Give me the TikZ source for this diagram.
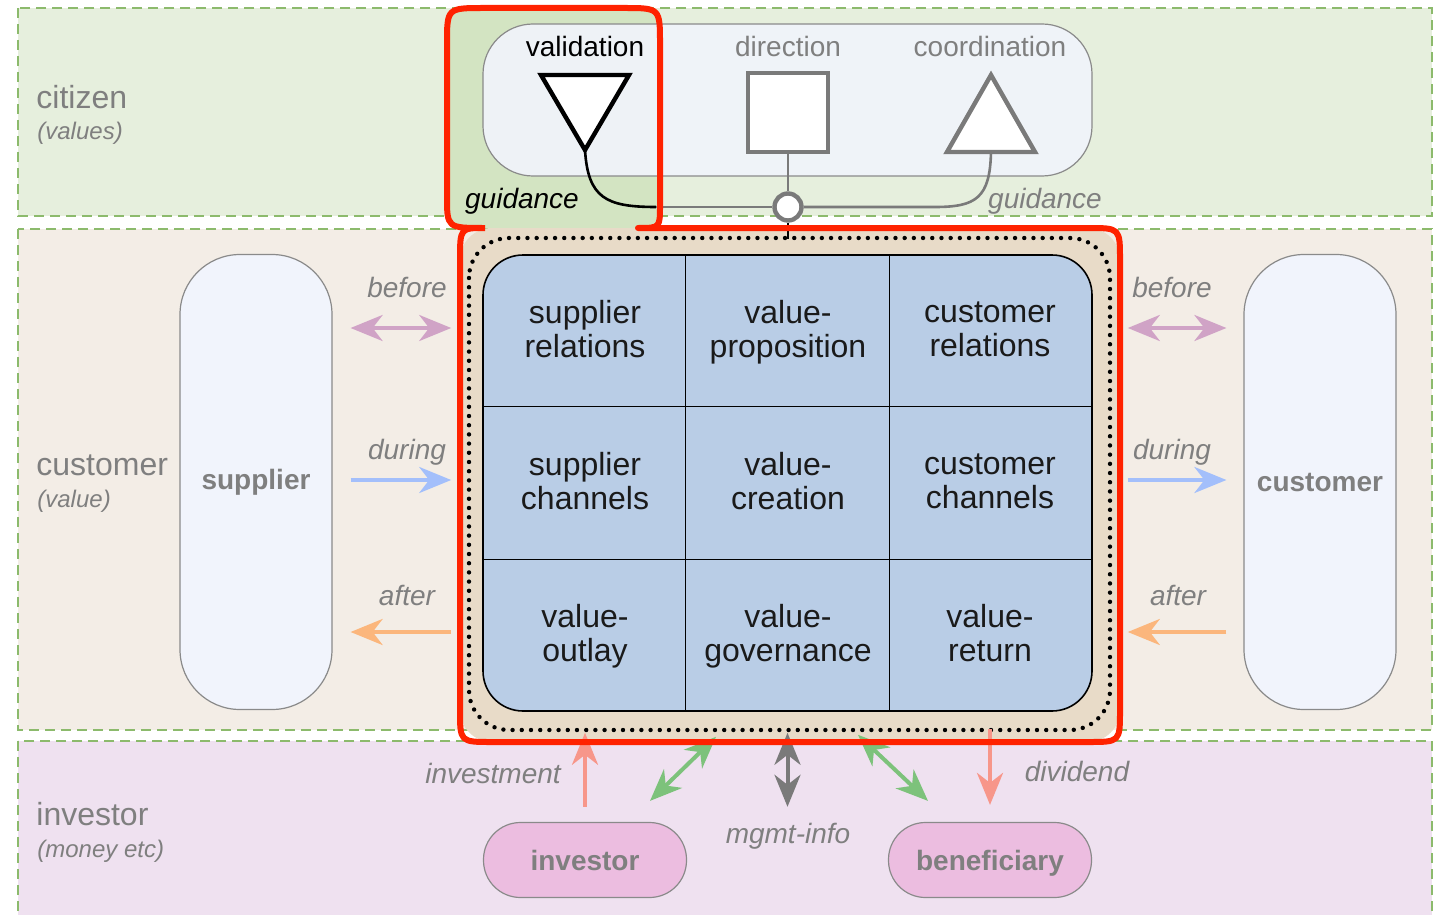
\documentclass[tikz,border=0pt]{standalone}
\usepackage{fontspec}
\setmainfont{Liberation Sans}
\usetikzlibrary{arrows.meta, calc}

\definecolor{citfill}{HTML}{E6EFDD}
\definecolor{cusfill}{HTML}{F3EDE6}
\definecolor{invfill}{HTML}{EFE1F0}
\definecolor{bandgreen}{HTML}{8CBA6C}
\definecolor{hlgreen}{HTML}{D3E4C2}
\definecolor{paleblue}{HTML}{F1F4FC}
\definecolor{coreback}{HTML}{E8DBC8}
\definecolor{gridblue}{HTML}{B9CDE6}
\definecolor{pillpink}{HTML}{ECBDE0}
\definecolor{labgray}{HTML}{7F7F7F}
\definecolor{boxgray}{HTML}{8A8A8A}
\definecolor{symgray}{HTML}{7A7A7A}
\definecolor{hilite}{HTML}{FF2200}
\definecolor{beforecol}{HTML}{D0A3C6}
\definecolor{duringcol}{HTML}{A3BFFB}
\definecolor{aftercol}{HTML}{FBB67C}
\definecolor{moneycol}{HTML}{F7968A}
\definecolor{infogreen}{HTML}{7DC27B}
\definecolor{cellink}{HTML}{1A1A1A}

\begin{document}
\begin{tikzpicture}[x=0.5pt, y=-0.5pt,
    band/.style={draw=bandgreen, line width=0.6pt, dash pattern=on 5pt off 3pt},
    rowname/.style={anchor=base west, inner sep=0pt, text=labgray, font=\fontsize{16}{19}\selectfont},
    rowsub/.style={anchor=base west, inner sep=0pt, text=labgray, font=\fontsize{12}{14}\selectfont\itshape},
    flowtxt/.style={anchor=base, text=labgray, font=\fontsize{14}{17}\selectfont\itshape},
    symtxt/.style={anchor=base, text=labgray, font=\fontsize{14}{17}\selectfont},
    cell/.style={align=center, text=cellink, font=\fontsize{16}{17}\selectfont,
        execute at begin node=\strut, execute at end node=\strut},
    party/.style={draw=boxgray, line width=0.6pt, fill=paleblue, rounded corners=30pt,
        minimum width=76pt, minimum height=227.5pt, text=labgray, font=\fontsize{14}{17}\selectfont\bfseries},
    holder/.style={draw=boxgray, line width=0.6pt, fill=pillpink, rounded corners=18.5pt,
        minimum width=101.5pt, minimum height=37.5pt, text=labgray, font=\fontsize{14}{17}\selectfont\bfseries,
        text height=11pt, text depth=1pt},
    oneway/.style={line width=2pt, -{Stealth[length=16pt, width=13pt, inset=5pt]}},
    twoway/.style={line width=2pt, {Stealth[length=16pt, width=13pt, inset=5pt]}-{Stealth[length=16pt, width=13pt, inset=5pt]}},
    link/.style={line width=1.3pt}
]
\useasboundingbox (0,0) rectangle (1440,915);

% bands
\path[band, fill=citfill] (18,8) rectangle (1432,216);
\path[band, fill=cusfill] (18,229) rectangle (1432,730);
\path[band, fill=invfill] (18,741) rectangle (1432,935);

\node[rowname] (citizen) at (36,109) {citizen};
\node[rowsub] (values) at (37,140) {(values)};
\node[rowname] (customer) at (36,475) {customer};
\node[rowsub] (value) at (37,507) {(value)};
\node[rowname] (investor) at (36,825) {investor};
\node[rowsub] (money) at (37,857) {(money etc)};

% highlighted areas
\fill[hlgreen] (447,44) .. controls (447,8) .. (484,8) -- (624,8) .. controls (660,8) .. (660,44)
    -- (660,205) .. controls (660,228) .. (638,228) -- (485,228) .. controls (447,228) .. (447,196) -- cycle;
\fill[coreback, rounded corners=16pt] (460,228) rectangle (1120,742);

% governance row
\node[draw=boxgray, line width=0.6pt, fill=paleblue, fill opacity=0.9, rounded corners=25pt,
    minimum width=304.5pt, minimum height=76pt] (gov) at (787.5,100) {};
\node[symtxt, text=black] (val) at (585,57) {validation};
\node[symtxt] (dir) at (788,57) {direction};
\node[symtxt] (coord) at (990,57) {coordination};

\draw[line width=2.2pt, fill=white] (541,75) -- (629,75) -- (585,150) -- cycle;
\draw[symgray, line width=2.2pt, fill=white] (748,73) rectangle (828,152);
\draw[symgray, line width=2.2pt, fill=white] (947,152) -- (1035,152) -- (991,75) -- cycle;
\coordinate (vtip) at (585,150);
\coordinate (dfoot) at (788,152);
\coordinate (cfoot) at (991,152);
\coordinate (vbend) at (656,207);
\coordinate (coretop) at (788,239);

\node[circle, draw=symgray, line width=2.2pt, fill=white, minimum size=13.5pt, inner sep=0pt] (hub) at (788,207) {};
\draw[link] (vtip) .. controls (588,198) and (606,207) .. (vbend);
\draw[link, symgray] (vbend) -- (hub);
\draw[link, symgray] (dfoot) -- (hub);
\draw[link, symgray] (cfoot) .. controls (990,198) and (976,207) .. (935,207) -- (hub);
\draw[link] (hub) -- (coretop);

\node[flowtxt, text=black] (gleft) at (522,208) {guidance};
\node[flowtxt] (gright) at (1045,208) {guidance};

% core grid
\draw[line width=2.2pt, dash pattern=on 0pt off 4.6pt, line cap=round, rounded corners=20pt] (469,238) rectangle (1110,730);
\node[draw, line width=0.8pt, fill=gridblue, rounded corners=20pt, minimum width=304.5pt, minimum height=228pt] (core) at (787.5,483) {};
\draw[line width=0.7pt] ($(core.north west)!1/3!(core.north east)$) -- ($(core.south west)!1/3!(core.south east)$);
\draw[line width=0.7pt] ($(core.north west)!2/3!(core.north east)$) -- ($(core.south west)!2/3!(core.south east)$);
\draw[line width=0.7pt] ($(core.north west)!1/3!(core.south west)$) -- ($(core.north east)!1/3!(core.south east)$);
\draw[line width=0.7pt] ($(core.north west)!2/3!(core.south west)$) -- ($(core.north east)!2/3!(core.south east)$);

\node[cell] (c11) at (585,334) {supplier\\relations};
\node[cell] (c12) at (788,334) {value-\\proposition};
\node[cell] (c13) at (990,334) {customer\\relations};
\node[cell] (c21) at (585,486) {supplier\\channels};
\node[cell] (c22) at (788,486) {value-\\creation};
\node[cell] (c23) at (990,486) {customer\\channels};
\node[cell] (c31) at (585,638) {value-\\outlay};
\node[cell] (c32) at (788,638) {value-\\governance};
\node[cell] (c33) at (990,638) {value-\\return};

% supplier and customer
\node[party] (sup) at (256,482) {supplier};
\node[party] (cus) at (1320,482) {customer};

\draw[twoway, beforecol] ($(sup.east |- c11)+(18,-6)$) -- ($(core.west |- c11)+(-31,-6)$);
\draw[oneway, duringcol] ($(sup.east |- c21)+(18,-6)$) -- ($(core.west |- c21)+(-31,-6)$);
\draw[oneway, aftercol] ($(core.west |- c31)+(-31,-6)$) -- ($(sup.east |- c31)+(18,-6)$);
\draw[twoway, beforecol] ($(core.east |- c13)+(35,-6)$) -- ($(cus.west |- c13)+(-17,-6)$);
\draw[oneway, duringcol] ($(core.east |- c23)+(35,-6)$) -- ($(cus.west |- c23)+(-17,-6)$);
\draw[oneway, aftercol] ($(cus.west |- c33)+(-17,-6)$) -- ($(core.east |- c33)+(35,-6)$);

\node[flowtxt] (bl) at (407,297) {before};
\node[flowtxt] (dl) at (407,459) {during};
\node[flowtxt] (al) at (407,605) {after};
\node[flowtxt] (br) at (1172,297) {before};
\node[flowtxt] (dr) at (1172,459) {during};
\node[flowtxt] (ar) at (1178,605) {after};

% investor row
\node[holder] (inv) at (585,860) {investor};
\node[holder] (ben) at (990,860) {beneficiary};

\draw[oneway, moneycol] ($(inv.north)+(0,-15)$) -- ($(core.south -| inv)+(0,21)$);
\draw[oneway, moneycol] ($(core.south -| ben)+(0,17)$) -- ($(ben.north)+(0,-17)$);
\draw[twoway, infogreen] ($(core.south)+(-71.5,25)$) -- ($(inv.north)+(65,-21)$);
\draw[twoway, symgray] ($(core.south)+(0,21)$) -- ($(core.south)+(0,95)$);
\draw[twoway, infogreen] ($(core.south)+(70.5,23)$) -- ($(ben.north)+(-62,-21)$);

\node[flowtxt] (il) at (493,783) {investment};
\node[flowtxt] (dv) at (1077,781) {dividend};
\node[flowtxt] (mi) at (788,843) {mgmt-info};

% red outline
\draw[hilite, line width=3pt, line join=round] (485,228) .. controls (447,228) .. (447,196) -- (447,44)
    .. controls (447,8) .. (484,8) -- (624,8) .. controls (660,8) .. (660,44) -- (660,205)
    .. controls (660,228) .. (638,228) -- (1088,228) .. controls (1120,228) .. (1120,260)
    -- (1120,710) .. controls (1120,742) .. (1088,742) -- (492,742) .. controls (460,742) .. (460,710)
    -- (460,260) .. controls (460,228) .. (485,228);
\end{tikzpicture}
\end{document}
